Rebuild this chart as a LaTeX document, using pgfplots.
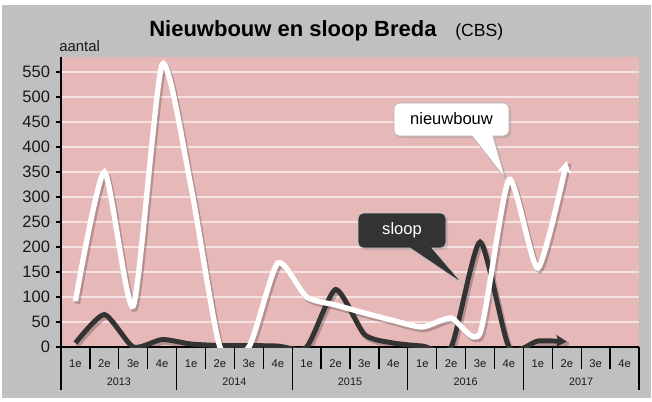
\documentclass[border=0pt]{standalone}
\usepackage{pgfplots}
\pgfplotsset{compat=1.18}
\usepackage{pgfplotstable}
\usepackage{fontspec}
\setmainfont{Liberation Sans}
\usetikzlibrary{arrows.meta,shadows}
\definecolor{outergray}{RGB}{192,192,192}
\definecolor{plotpink}{RGB}{230,185,184}
\definecolor{gridpink}{RGB}{246,226,226}
\definecolor{darkline}{RGB}{51,51,51}
\definecolor{txt}{RGB}{25,25,25}

\pgfplotstableread{
q n s
0 92 8
1 350 65
2 82 0
3 565 15
4 320 6
5 0 3
6 0 3
7 168 2
8 100 0
9 84 115
10 68 25
11 53 8
12 40 2
13 58 0
14 28 210
15 335 0
16 158 12
17 372 11
}\data

\begin{document}
\begin{tikzpicture}
\begin{scope}[x=0.75pt,y=0.75pt,shift={(-45.75pt,-40.5pt)}]
\fill[white] (0,0) rectangle (652,401);
\fill[outergray] (2,3) rectangle (651,396);
\end{scope}
\begin{axis}[
  at={(0,0)}, anchor=south west, scale only axis,
  width=433.5pt, height=217.5pt,
  xmin=-0.5, xmax=19.5, ymin=0, ymax=580,
  axis background/.style={fill=plotpink},
  axis lines*=left,
  axis line style={black, line width=0.9pt},
  xtick={0,...,19},
  xticklabels={1e,2e,3e,4e,1e,2e,3e,4e,1e,2e,3e,4e,1e,2e,3e,4e,1e,2e,3e,4e},
  xtick style={draw=none},
  xticklabel style={font=\fontsize{8.4}{9}\selectfont, text=txt, yshift=-2pt},
  ytick={0,50,...,550},
  yticklabel style={font=\fontsize{12.4}{13}\selectfont, text=txt, xshift=-1pt},
  /pgf/number format/assume math mode=true,
  tick align=outside,
  ytick style={black, line width=0.8pt},
  major tick length=3.75pt,
  ymajorgrids,
  major grid style={gridpink, line width=0.9pt},
]
\addplot[black, opacity=0.22, line width=4pt, smooth, tension=0.38, xshift=1.5pt, yshift=-2pt] table[x=q,y=n]{\data};
\addplot[black, opacity=0.22, line width=3.7pt, smooth, tension=0.38, xshift=1.5pt, yshift=-2pt] table[x=q,y=s]{\data};
\addplot[darkline, line width=3.7pt, smooth, tension=0.38, -{Stealth[length=8pt,width=9pt,inset=2pt]}] table[x=q,y=s]{\data};
\addplot[white, line width=4pt, smooth, tension=0.38, -{Stealth[length=9pt,width=10pt,inset=2.5pt]}] table[x=q,y=n]{\data};
\end{axis}
\begin{scope}[x=0.75pt,y=0.75pt,shift={(-45.75pt,-40.5pt)}]
% category separators
\foreach \k in {1,2,3,5,6,7,9,10,11,13,14,15,17,18,19}{
  \draw[black, line width=1pt] ({61+\k*28.9},54) -- ({61+\k*28.9},32);
}
\foreach \k in {0,4,8,12,16,20}{
  \draw[black, line width=1pt] ({61+\k*28.9},54) -- ({61+\k*28.9},11);
}
\foreach \y [count=\j from 0] in {2013,2014,2015,2016,2017}{
  \node[anchor=base, inner sep=0, text=txt, font=\fontsize{8.1}{9}\selectfont] at ({61+(4*\j+2)*28.9},15.3) {\y};
}
% titles
\node[anchor=base west, inner sep=0, text=black, font=\fontsize{16.5}{19}\selectfont\bfseries] at (149,365) {Nieuwbouw en sloop Breda};
\node[anchor=base west, inner sep=0, text=black, font=\fontsize{13.2}{15}\selectfont] at (455,365) {(CBS)};
\node[anchor=base west, inner sep=0, text=txt, font=\fontsize{11.2}{13}\selectfont] at (59,350) {aantal};
% callouts
\path[fill=white, draw=gray!60, line width=0.5pt, drop shadow={opacity=0.3, shadow xshift=1.5pt, shadow yshift=-1.5pt}]
  (394,281) [rounded corners=4pt] -- (394,298) -- (509,298) -- (509,265) [sharp corners] -- (493,265) -- (505,223) -- (472,265) [rounded corners=4pt] -- (394,265) -- cycle;
\node[text=black, font=\fontsize{12.4}{14}\selectfont] at (451.5,282) {nieuwbouw};
\path[fill=darkline, draw=gray!40, line width=0.5pt, drop shadow={opacity=0.3, shadow xshift=1.5pt, shadow yshift=-1.5pt}]
  (358,170) [rounded corners=4pt] -- (358,188) -- (446,188) -- (446,153) [sharp corners] -- (432,153) -- (462,118) -- (410,153) [rounded corners=4pt] -- (358,153) -- cycle;
\node[text=white, font=\fontsize{12.4}{14}\selectfont] at (402,171) {sloop};
\pgfresetboundingbox
\useasboundingbox (0,0) rectangle (652,401);
\end{scope}
\end{tikzpicture}
\end{document}
